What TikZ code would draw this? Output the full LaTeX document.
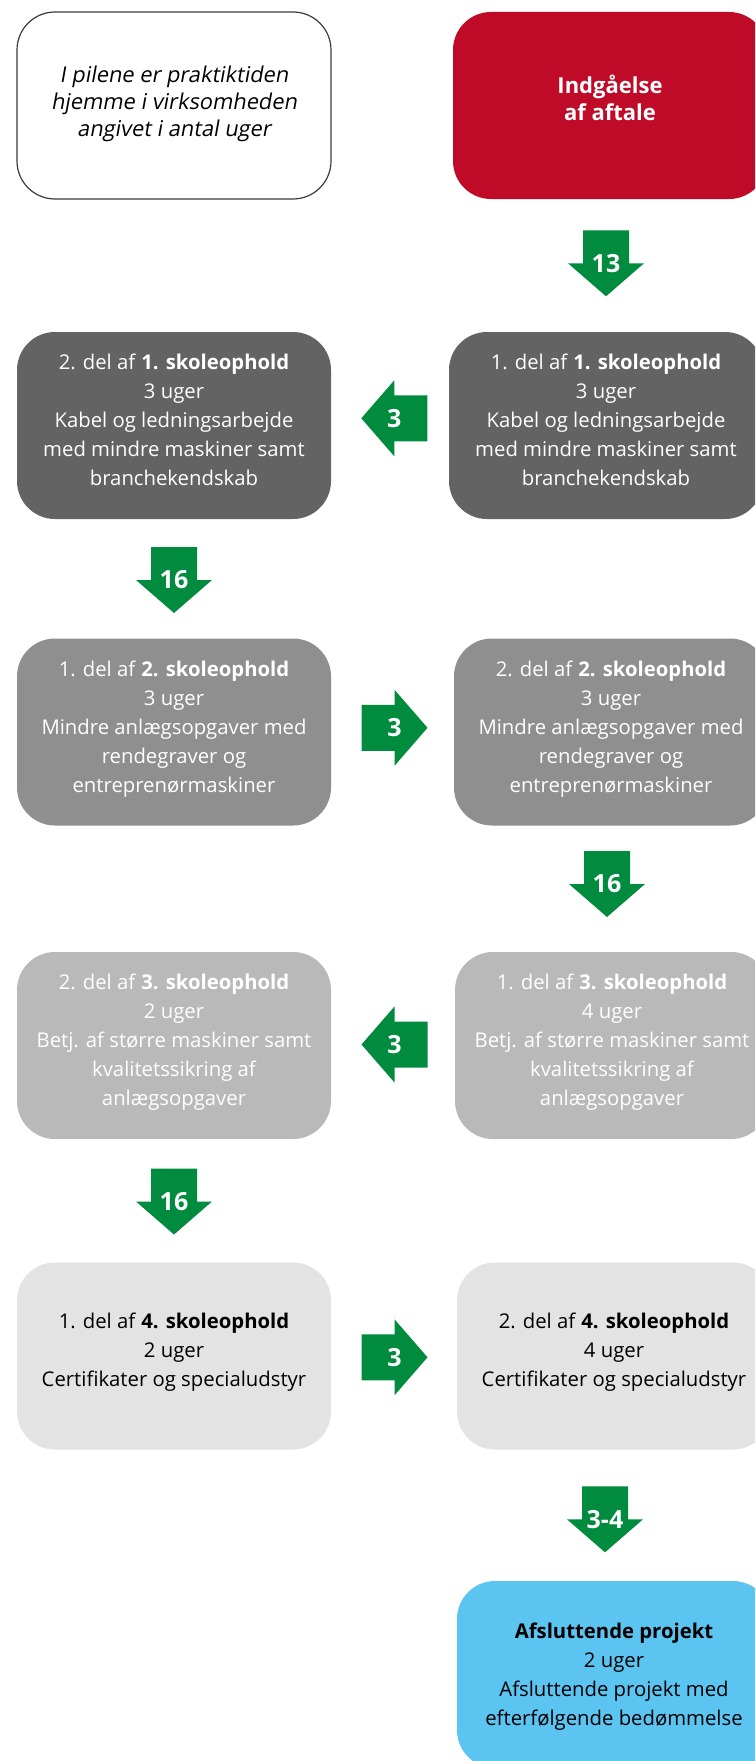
\documentclass[tikz,border=0pt]{standalone}
\usepackage{fontspec}
\setmainfont{Open Sans}
\newfontfamily\introfont{Open Sans}[FakeSlant=0.18]
\definecolor{ared}{RGB}{192,11,40}
\definecolor{gA}{RGB}{99,99,99}
\definecolor{gB}{RGB}{143,143,143}
\definecolor{gC}{RGB}{185,185,185}
\definecolor{gD}{RGB}{227,227,227}
\definecolor{ablue}{RGB}{92,196,241}
\definecolor{agreen}{RGB}{0,139,62}
\definecolor{bordergray}{RGB}{60,60,60}
\newcommand{\GreenArrow}[4]{%
  \begin{scope}[shift={#2}, rotate=#3]
    \fill[agreen] (-33,-23) -- (0,-23) -- (0,-38) -- (33,0) -- (0,38) -- (0,23) -- (-33,23) -- cycle;
  \end{scope}
  \node[lbl] (#1) at #2 {#4};}
\begin{document}
\begin{tikzpicture}[x=1pt,y=-1pt,
  box/.style={rectangle, rounded corners=38pt, minimum width=314pt, minimum height=187pt, inner sep=0pt},
  body/.style={align=center, font=\fontsize{20.3}{29}\selectfont, text depth=0pt, inner sep=0pt},
  lbl/.style={text=white, font=\bfseries\fontsize{25}{25}\selectfont, inner sep=0pt}]
\useasboundingbox (0,0) rectangle (755,1761);
\clip (0,0) rectangle (755,1761);
\fill[white] (0,0) rectangle (755,1761);

% top row
\node[box, draw=bordergray, line width=1.2pt, fill=white] (intro) at (174,105.5) {};
\node[body, font=\introfont\fontsize{21.8}{27}\selectfont] (introtxt) at (174,101.7)
  {I pilene er praktiktiden\\hjemme i virksomheden\\angivet i antal uger};
\node[box, fill=ared] (start) at (610,105.5) {};
\node[body, text=white, font=\bfseries\fontsize{22}{26.7}\selectfont] (starttxt) at (610,98)
  {Indgåelse\\af aftale};

% row 1
\node[box, fill=gA] (s1b) at (174,425.5) {};
\node[body, text=white] (s1btxt) at (174,420)
  {2. del af \textbf{1. skoleophold}\\3 uger\\Kabel og ledningsarbejde\\med mindre maskiner samt\\branchekendskab};
\node[box, fill=gA] (s1a) at (606,425.5) {};
\node[body, text=white] (s1atxt) at (606,420)
  {1. del af \textbf{1. skoleophold}\\3 uger\\Kabel og ledningsarbejde\\med mindre maskiner samt\\branchekendskab};

% row 2
\node[box, fill=gB] (s2a) at (174,732) {};
\node[body, text=white] (s2atxt) at (174,727)
  {1. del af \textbf{2. skoleophold}\\3 uger\\Mindre anlægsopgaver med\\rendegraver og\\entreprenørmaskiner};
\node[box, fill=gB] (s2b) at (611,732) {};
\node[body, text=white] (s2btxt) at (611,727)
  {2. del af \textbf{2. skoleophold}\\3 uger\\Mindre anlægsopgaver med\\rendegraver og\\entreprenørmaskiner};

% row 3
\node[box, fill=gC] (s3b) at (174,1045.5) {};
\node[body, text=white] (s3btxt) at (174,1040)
  {2. del af \textbf{3. skoleophold}\\2 uger\\Betj. af større maskiner samt\\kvalitetssikring af\\anlægsopgaver};
\node[box, fill=gC] (s3a) at (612,1045.5) {};
\node[body, text=white] (s3atxt) at (612,1040)
  {1. del af \textbf{3. skoleophold}\\4 uger\\Betj. af større maskiner samt\\kvalitetssikring af\\anlægsopgaver};

% row 4
\node[box, fill=gD] (s4a) at (174,1356) {};
\node[body, text=black] (s4atxt) at (174,1350)
  {1. del af \textbf{4. skoleophold}\\2 uger\\Certifikater og specialudstyr};
\node[box, fill=gD] (s4b) at (614,1356) {};
\node[body, text=black] (s4btxt) at (614,1350)
  {2. del af \textbf{4. skoleophold}\\4 uger\\Certifikater og specialudstyr};

% final
\node[box, fill=ablue] (final) at (614,1674.5) {};
\node[body, text=black] (finaltxt) at (614,1674)
  {\textbf{Afsluttende projekt}\\2 uger\\Afsluttende projekt med\\efterfølgende bedømmelse};

% arrows
\GreenArrow{a13}{(606,263.3)}{-90}{13}
\GreenArrow{a1}{(394.3,418.3)}{180}{3}
\GreenArrow{a16a}{(174,580)}{-90}{16}
\GreenArrow{a2}{(394.5,727.8)}{0}{3}
\GreenArrow{a16b}{(607,884)}{-90}{16}
\GreenArrow{a3}{(394.5,1044.5)}{180}{3}
\GreenArrow{a16c}{(174,1201.5)}{-90}{16}
\GreenArrow{a4}{(394.5,1357.3)}{0}{3}
\GreenArrow{a34}{(605,1519.3)}{-90}{3-4}
\end{tikzpicture}
\end{document}
